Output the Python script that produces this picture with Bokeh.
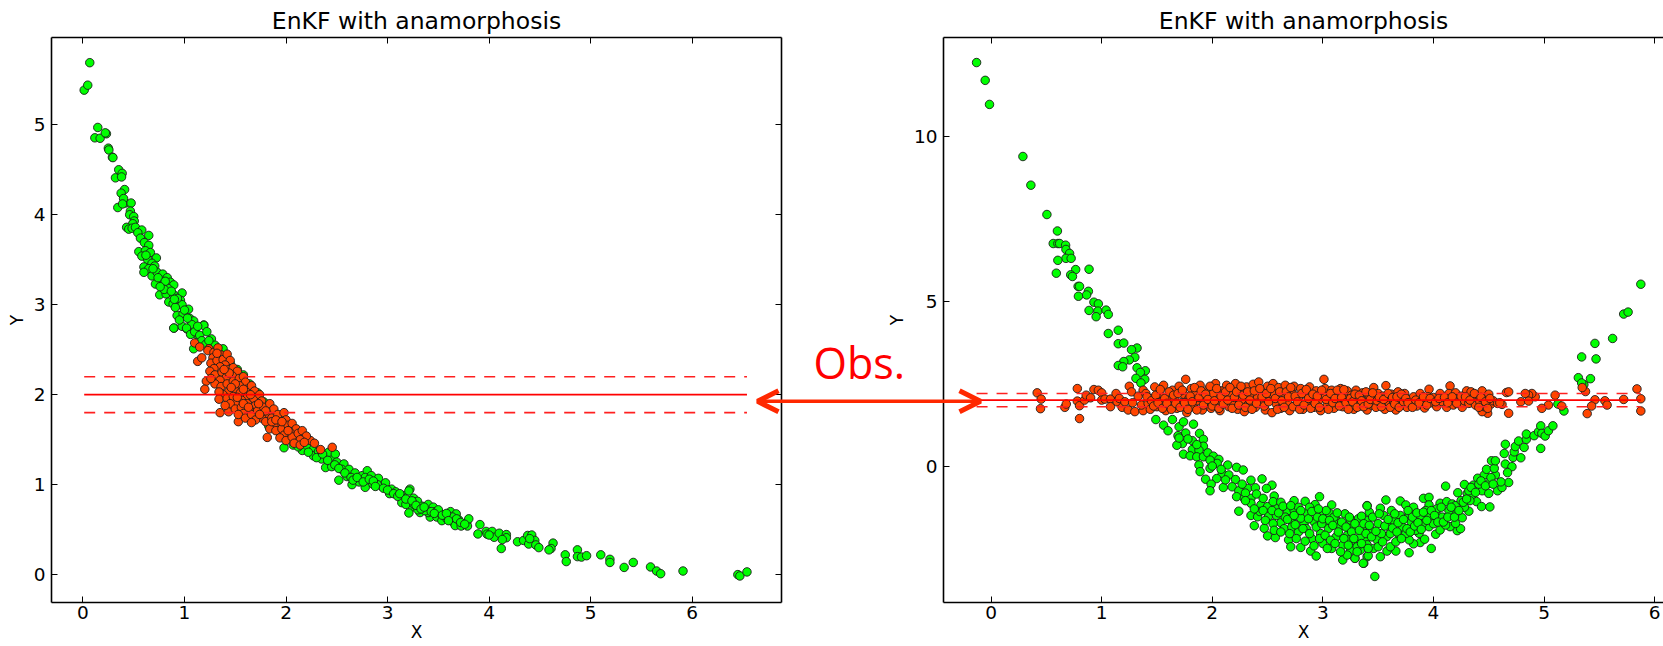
from bokeh.plotting import figure
from bokeh.layouts import row
from bokeh.models import LinearAxis, FixedTicker, Arrow, OpenHead, Label
from bokeh.embed import file_html
from bokeh.resources import INLINE

title_text = "EnKF with anamorphosis"
x_label = "X"
y_label = "Y"
note_text = "Obs."
obs_value = 2.0
obs_low = 1.8
obs_high = 2.2
left_xticks = [0, 1, 2, 3, 4, 5, 6]
left_yticks = [0, 1, 2, 3, 4, 5]
right_xticks = [0, 1, 2, 3, 4, 5, 6]
right_yticks = [0, 5, 10]

left_green = [(.012,5.385),(.047,5.44),(.067,5.69),(.146,4.97),(.117,4.855),(.169,4.85),(.231,4.9),(.22,4.91),(.25,4.74),(.255,4.72),(.29,4.64),(.295,4.635),
(.32,4.41),(.352,4.5),(.386,4.46),(.38,4.42),(.41,4.28),(.376,4.24),(.343,4.08),(.418,4.13),(.4,4.18),(.39,4.12),(.474,4.13),(.467,4.04),(.46,4.0),(.5,3.98),(.505,3.93),(.49,3.9),
(.43,3.86),(.451,3.84),(.484,3.85),(.517,3.86),(.579,3.83),(.648,3.77),(.54,3.8),(.566,3.74),(.605,3.69),(.648,3.66),(.55,3.59),(.615,3.6),(.664,3.58),(.58,3.54),(.723,3.52),(.638,3.5),(.68,3.46),(.707,3.43),(.6,3.42),(.648,3.4),(.6,3.36),(.68,3.32),(.73,3.36),(.786,3.34),(.83,3.3),(.756,3.27),(.861,3.25),(.894,3.22),(.714,3.23),(.779,3.21),(.838,3.18),(.976,3.13),(.756,3.11),(.819,3.12),(.894,3.11),(.845,3.03),(.888,3.01),(.96,3.05),(.976,3.0),(1.04,2.95),(.927,2.88),(.986,2.9),(1.05,2.85),(1.09,2.82),(1.19,2.775),(.897,2.74),(.976,2.76),(1.025,2.73),(1.107,2.73),(.74,3.3),(.81,3.26),(.8,3.17),(.87,3.15),(.93,3.07),(.91,2.97),(1.0,2.94),(.95,2.83),(1.07,2.78),
(.894,2.74),(1.02,2.74),(1.19,2.77),(1.12,2.67),(1.06,2.67),(1.1,2.7),(1.15,2.66),(1.22,2.7),(1.265,2.62),(1.09,2.51),(1.38,2.51),(1.17,2.6),(1.21,2.56),(1.3,2.55),(1.35,2.45),(1.41,2.42),(1.45,2.35),(1.52,2.28),(1.58,2.22),(1.64,2.12),(1.72,2.02),(1.78,1.92),(1.86,1.84),(1.92,1.76),(1.98,1.68),
(1.83,1.65),(1.98,1.41),(2.07,1.44),(2.0,1.55),(2.1,1.5),(2.16,1.38),(2.27,1.41),(2.27,1.32),(2.2,1.44),(2.35,1.285),(2.32,1.37),(2.39,1.19),(2.45,1.285),(2.42,1.36),(2.485,1.34),(2.5,1.25),(2.57,1.23),(2.55,1.17),(2.45,1.2),(2.52,1.05),(2.6,1.09),(2.62,1.17),(2.65,1.0),(2.68,1.13),(2.75,1.1),(2.72,1.03),(2.8,1.155),(2.78,1.08),(2.85,1.01),(2.84,1.1),(2.91,1.07),(2.78,.97),(2.945,.98),(2.9,1.0),(2.98,1.02),(3.04,.95),(3.02,.9),(3.08,.92),(3.22,.95),(3.15,.88),
(3.21,.93),(3.125,.88),(3.14,.8),(3.22,.82),(3.256,.85),(3.295,.815),(3.24,.75),(3.34,.76),(3.4,.78),(3.32,.69),(3.42,.64),(3.45,.75),(3.485,.64),(3.525,.675),(3.535,.6),(3.585,.62),(3.62,.7),(3.676,.675),(3.65,.58),(3.666,.545),(3.7,.61),(3.725,.54),(3.78,.58),(3.787,.54),(3.8,.62),(3.4,.69),(3.21,.685),(3.3,.72),(3.37,.71),(3.47,.7),(3.5,.72),(3.56,.66),(3.6,.63),(3.64,.64),(3.18,.78),(3.26,.78),
(3.91,.556),(3.89,.452),(3.97,.48),(3.98,.45),(4.03,.48),(4.05,.415),(4.0,.44),(4.1,.46),(4.17,.445),(4.17,.41),(4.13,.39),(4.12,.29),(4.28,.365),(4.34,.38),(4.38,.435),(4.42,.44),(4.45,.38),(4.39,.34),(4.46,.33),(4.49,.30),(4.4,.4),(4.63,.35),(4.61,.29),(4.59,.275),(4.75,.22),(4.76,.145),(4.87,.275),(4.87,.2),(4.91,.195),(4.96,.21),(5.10,.22),(5.19,.17),(5.19,.135),(5.33,.08),(5.42,.135),(5.59,.085),(5.65,.04),(5.69,.01),(5.91,.04),(6.45,0),(6.47,-.015),(6.54,.03),
(.62,3.55),(.69,3.4),(.76,3.2),(.9,3.06),(1.03,2.85),(1.13,2.76),(1.24,2.6),(2.12,1.42),(2.22,1.36),(2.3,1.3),(2.36,1.34),(2.41,1.27),(2.48,1.22),(2.52,1.18),(2.58,1.13),(2.64,1.08),(2.66,1.05),(2.7,1.08),(2.76,1.03),(2.82,1.06),(2.86,1.04),(2.88,.98),(2.96,.96),(3.0,.94),(3.06,.9),(3.1,.87),(3.12,.9),(3.18,.84),(3.24,.82),(3.28,.77),(3.33,.73),(3.36,.75),(3.43,.7),(3.46,.68),(3.54,.66),(3.58,.68),(3.6,.6),(3.68,.62),(3.72,.58),(3.76,.56)]

left_red = [(1.10,2.575),(1.15,2.53),(1.24,2.51),(1.13,2.37),(1.17,2.41),(1.215,2.15),(1.2,2.06),(1.35,1.80),(1.435,1.81),(1.53,1.70),(1.815,1.525),(2.34,1.39),(2.455,1.415),(2.24,1.49),
(1.23,2.49),(1.29,2.47),(1.33,2.52),(1.36,2.44),(1.28,2.41),(1.26,2.35),(1.32,2.38),(1.38,2.39),(1.42,2.45),(1.45,2.38),(1.4,2.33),(1.35,2.31),(1.29,2.29),(1.25,2.26),(1.3,2.22),(1.37,2.25),(1.44,2.28),(1.48,2.3),(1.52,2.26),(1.47,2.21),(1.41,2.19),(1.35,2.16),(1.3,2.12),(1.26,2.18),(1.36,2.09),(1.42,2.12),(1.48,2.15),(1.54,2.18),(1.58,2.2),(1.6,2.14),(1.54,2.1),(1.49,2.06),(1.43,2.03),(1.38,2.0),(1.34,2.03),(1.34,1.95),(1.42,1.96),(1.48,1.98),(1.55,2.02),(1.61,2.06),(1.66,2.1),(1.69,2.04),(1.62,1.98),(1.56,1.94),(1.5,1.9),(1.45,1.9),(1.4,1.88),(1.5,1.84),(1.56,1.86),(1.62,1.9),(1.68,1.96),(1.74,2.0),(1.76,1.93),(1.7,1.88),(1.64,1.83),(1.58,1.79),(1.53,1.78),(1.6,1.74),(1.66,1.78),(1.72,1.82),(1.78,1.86),(1.84,1.9),(1.88,1.84),(1.82,1.78),(1.76,1.74),(1.7,1.72),(1.66,1.69),(1.8,1.7),(1.86,1.74),(1.92,1.78),(1.98,1.8),(2.0,1.72),(1.94,1.68),(1.88,1.66),(1.84,1.62),(1.9,1.6),(1.96,1.62),(2.02,1.66),(2.06,1.68),(2.1,1.62),(2.04,1.58),(1.98,1.55),(1.94,1.52),(2.0,1.49),(2.06,1.53),(2.12,1.57),(2.16,1.6),(2.2,1.54),(2.14,1.5),(2.08,1.46),(2.14,1.44),(2.18,1.47),(2.28,1.46),(1.44,2.24),(1.5,2.12),(1.58,2.06),(1.65,2.0),(1.73,1.9),(1.8,1.82),(1.86,1.7),(1.32,2.46),(1.39,2.28),(1.46,2.08),(1.52,1.97),(1.58,1.9),(1.63,1.86),(1.74,1.78),(1.9,1.72),(1.96,1.7),(2.02,1.6)]

right_green = [(-.131,12.24),(-.053,11.7),(-.014,10.97),(.288,9.39),(.36,8.52),(.505,7.63),(.60,7.13),(.562,6.75),(.604,6.75),(.62,6.75),(.674,6.7),(.677,6.57),(.71,6.45),(.677,6.3),(.724,6.3),(.604,6.24),(.765,5.96),(.886,5.97),(.59,5.85),(.72,5.8),(.736,5.75),(.787,5.45),(.8,5.45),(.88,5.3),(.864,5.19),(.79,5.15),(.93,4.97),(.97,4.92),(.966,4.7),(.886,4.72),(.95,4.53),(1.04,4.73),(1.06,4.6),(1.15,4.12),(1.06,4.02),(1.15,3.71),(1.2,3.73),(1.32,3.58),(1.27,3.53),(1.30,3.3),(1.25,3.22),(1.2,3.17),(1.15,3.05),(1.19,3.01),(1.32,2.98),(1.395,2.89),(1.35,2.84),(1.31,2.66),(1.39,2.63),(1.355,2.52),
(1.49,1.41),(1.56,1.24),(1.60,1.07),(1.64,1.41),(1.70,1.19),(1.74,1.34),(1.83,1.27),(1.885,.99),(1.76,1.0),(1.69,.92),(1.82,.77),(1.92,.81),(1.73,.68),(1.68,.63),(1.92,.60),(1.82,.5),(1.88,.48),(1.74,.36),(1.80,.31),(1.86,.28),(1.92,.28),(1.96,.40),(2.01,.30),(2.06,.20),(1.88,.03),(2.045,.08),(2.14,.03),(2.22,-.04),(2.28,-.12),(1.89,-.17),(1.98,-.07),(2.09,-.22),(2.15,-.27),(1.94,-.40),(2.04,-.38),(2.21,-.41),(2.35,-.43),(2.45,-.39),(1.99,-.55),(2.10,-.65),(2.54,-.58),(2.49,-.68),(1.98,-.75),(2.18,-.63),(2.24,-.75),(2.32,-.68),(2.39,-.66),(2.22,-.93),(2.29,-.98),(2.35,-.98),(2.56,-.91),(2.97,-.93),(2.74,-1.05),(2.84,-1.07),(2.93,-1.17),(3.08,-1.18),(3.4,-1.2),(2.24,-1.37),(2.35,-1.13),(2.44,-1.18),(2.5,-1.23),(2.59,-1.28),(2.68,-1.36),(2.74,-1.34),(2.86,-1.44),(2.99,-1.46),(3.06,-1.44),(2.35,-1.5),(2.41,-1.54),(2.51,-1.52),(2.62,-1.72),(2.72,-1.64),(2.83,-1.74),(2.92,-1.69),(3.02,-1.72),(3.13,-1.66),(3.25,-1.62),(3.35,-1.54),
(2.38,-1.81),(2.47,-1.89),(2.5,-2.12),(2.57,-2.17),(2.69,-2.24),(2.71,-2.45),(2.8,-2.47),(2.89,-2.58),(2.94,-2.73),(3.18,-2.85),(3.29,-2.8),(3.37,-2.95),(3.4,-2.75),
(1.7,.85),(1.78,.82),(1.86,.65),(1.98,.18),(2.0,.0),(2.08,-.1),(2.12,-.42),(2.27,-.55),(2.3,-.82),(2.4,-.85),(2.46,-.98),(2.43,-1.38),(2.55,-1.08),(2.62,-1.1),(2.58,-1.5),(2.66,-1.55),(2.65,-1.9),(2.72,-1.85),(2.78,-1.25),(2.8,-1.58),(2.78,-2.0),(2.85,-1.9),(2.88,-1.25),(2.9,-2.2),(2.95,-1.55),(2.98,-2.05),(3.0,-2.35),(3.03,-1.35),(3.05,-1.9),(3.08,-2.5),(3.1,-1.55),(3.12,-2.15),(3.15,-1.85),(3.18,-2.4),(3.2,-1.45),(3.22,-2.1),(3.25,-2.55),(3.27,-1.85),(3.3,-2.3),(3.32,-1.6),(3.34,-2.55),(3.36,-1.95),(3.38,-2.25),(3.4,-1.65),
(3.47,-3.35),(3.365,-2.95),(3.29,-2.8),(3.52,-2.75),(3.41,-2.72),(3.22,-2.7),(3.66,-2.58),(3.78,-2.63),(3.98,-2.5),(3.58,-2.58),(3.61,-2.45),(3.88,-2.32),(3.82,-2.36),(3.92,-2.22),(4.02,-2.07),(4.06,-1.94),(4.215,-1.96),(4.245,-1.9),(4.15,-1.84),(4.2,-1.74),(4.11,-1.79),(4.26,-1.57),(4.32,-1.37),(4.18,-1.41),(4.05,-1.54),(3.96,-1.84),(3.87,-2.04),(3.78,-2.24),(3.69,-2.09),(3.58,-2.14),(3.49,-2.24),(3.4,-2.39),(3.31,-2.45),(3.235,-2.24),(3.34,-2.14),(3.43,-1.94),(3.25,-1.64),(3.35,-1.52),(3.42,-1.4),(3.4,-1.21),(3.52,-1.28),(3.57,-1.03),(3.70,-1.06),(3.75,-1.18),(3.91,-.98),(3.96,-.95),(4.11,-.61),(3.96,-1.18),(4.06,-1.13),(4.12,-1.08),(4.17,-1.15),(4.22,-.81),(4.28,-.56),(4.36,-.58),(4.305,-.83),(4.35,-.88),(4.39,-1.08),(4.435,-1.23),(4.51,-1.24),
(3.46,-2.5),(3.5,-1.75),(3.53,-2.05),(3.55,-1.5),(3.6,-1.85),(3.62,-1.35),(3.64,-1.65),(3.66,-2.3),(3.7,-1.5),(3.72,-1.85),(3.75,-2.05),(3.78,-1.45),(3.8,-1.7),(3.82,-1.25),(3.84,-1.95),(3.88,-1.55),(3.9,-1.75),(3.93,-1.35),(3.96,-1.55),(4.0,-1.75),(4.03,-1.3),(4.08,-1.55),(4.14,-1.35),(4.2,-1.2),(4.25,-1.05),(4.28,-1.25),(4.33,-1.05),
(4.4,-.37),(4.46,-.27),(4.50,-.53),(4.44,-.75),(4.5,-.83),(4.58,-.75),(4.62,-.65),(4.68,-.5),(4.61,-.48),(4.56,-.27),(4.48,-.1),(4.55,-.07),(4.525,.16),(4.56,.16),(4.65,.06),(4.71,-.02),(4.67,-.2),(4.64,.38),(4.65,.66),(4.72,.26),(4.79,.25),(4.73,.43),(4.74,.59),(4.77,.76),(4.82,.565),(4.84,.81),(4.84,.97),(4.91,.92),(4.97,.535),(4.95,1.04),(4.97,1.22),(4.98,.99),(5.01,.91),(5.04,1.07),(5.08,1.22),
(5.125,1.88),(5.18,1.67),(5.31,2.68),(5.34,3.31),(5.46,3.72),(5.47,3.25),(5.42,2.65),(5.36,2.47),(5.34,2.52),(5.62,3.87),(5.72,4.61),(5.76,4.67),(5.875,5.515),
(2.3,-1.05),(2.38,-1.3),(2.46,-1.35),(2.48,-1.65),(2.54,-1.35),(2.55,-1.75),(2.56,-1.95),(2.6,-1.42),(2.62,-2.0),(2.64,-1.22),(2.68,-1.62),(2.7,-2.05),(2.71,-1.2),(2.74,-1.5),(2.75,-1.78),(2.76,-2.2),(2.8,-1.35),(2.82,-1.9),(2.84,-2.28),(2.87,-1.6),(2.88,-2.05),(2.9,-1.38),(2.92,-2.42),(2.94,-1.85),(2.96,-1.3),(2.97,-2.2),(2.99,-1.75),(3.0,-1.6),(3.02,-2.1),(3.04,-2.5),(3.06,-1.65),(3.07,-2.25),(3.09,-1.8),(3.11,-2.35),(3.13,-1.42),(3.14,-2.0),(3.16,-2.6),(3.17,-1.7),(3.19,-2.2),(3.21,-1.85),(3.23,-2.4),(3.24,-1.55),(3.26,-2.0),(3.28,-2.2),(3.29,-1.75),(3.31,-2.6),(3.33,-1.95),(3.35,-2.35),(3.37,-1.75),(3.39,-2.05),(3.41,-2.5),(3.42,-1.8),(3.44,-2.15),(3.45,-1.55),(3.48,-1.98),(3.5,-2.45),(3.51,-1.45),(3.54,-2.3),(3.56,-1.82),(3.59,-1.62),(3.61,-2.05),(3.63,-1.88),(3.65,-1.45),(3.67,-2.0),(3.68,-1.72),(3.71,-2.2),(3.73,-1.62),(3.76,-1.9),(3.77,-1.35),(3.79,-2.0),(3.81,-1.55),(3.83,-1.82),(3.85,-1.42),(3.86,-1.72),(3.89,-1.92),(3.91,-1.4),(3.94,-1.65),(3.98,-1.35),(4.01,-1.5),(4.04,-1.7),(4.07,-1.25),(4.09,-1.7),(4.13,-1.55),(4.16,-1.25),(4.19,-1.55),(4.23,-1.35),(4.27,-1.1),(4.3,-1.0),(4.32,-.75),(4.34,-.65),(4.38,-.8),(4.41,-.55),(4.43,-.45),(4.47,-.6),(4.52,-.35),(4.54,-.55)]

right_red = [(.417,2.22),(.453,2.03),(.447,1.74),(.667,1.78),(.68,1.88),(.78,2.35),(.78,1.97),(.8,1.83),(.8,1.44),(.845,2.0),(.86,2.15),(.9,2.07),(.93,2.32),(.97,2.3),(1.0,2.22),(1.0,2.0),(1.03,2.03),(1.08,2.03),(1.08,1.8),(1.13,2.2),(1.14,1.95),(1.185,1.78),(1.24,1.7),(1.25,2.42),(1.3,1.65),(1.27,2.25),(1.375,1.68),(1.375,2.3),(1.16,2.05),(1.21,1.95),(1.28,1.92),(1.33,2.12),(1.36,1.85),
(1.4,2.2),(1.42,1.9),(1.44,1.72),(1.46,2.05),(1.48,2.4),(1.5,1.8),(1.52,2.2),(1.54,1.95),(1.56,2.45),(1.58,1.68),(1.6,2.12),(1.62,1.85),(1.64,2.3),(1.66,2.0),(1.68,1.75),(1.7,2.42),(1.72,1.92),(1.74,2.18),(1.76,2.63),(1.77,1.62),(1.79,2.05),(1.81,2.35),(1.83,1.8),(1.85,2.22),(1.87,1.98),(1.89,2.45),(1.91,1.7),(1.93,2.1),(1.95,1.88),(1.97,2.35),(1.99,1.75),(2.01,2.2),(2.03,2.5),(2.05,1.95),(2.07,1.68),(2.09,2.28),(2.11,2.05),(2.13,2.45),(2.15,1.8),(2.17,2.15),(2.19,1.92),(2.21,2.5),(2.23,1.72),(2.25,2.3),(2.27,2.02),(2.29,1.65),(2.31,2.4),(2.33,1.88),(2.35,2.18),(2.37,2.48),(2.39,1.78),(2.42,2.55),(2.41,2.08),(2.44,1.95),(2.46,2.28),(2.48,1.7),(2.5,2.42),(2.52,2.05),(2.55,2.5),(2.54,1.62),(2.56,2.2),(2.58,1.88),(2.6,2.38),(2.62,1.75),(2.64,2.12),(2.66,2.45),(2.68,1.95),(2.7,1.68),(2.72,2.25),(2.74,2.42),(2.76,1.85),(2.78,2.08),(2.8,2.35),(2.82,1.72),(2.84,2.18),(2.86,1.92),(2.88,2.4),(2.9,2.02),(2.92,1.78),(2.94,2.28),(2.96,1.98),(2.98,1.68),(3.01,2.63),(3.0,2.15),(3.02,2.35),(3.04,1.85),(3.06,2.08),(3.08,2.3),(3.1,1.75),(3.12,2.2),(3.14,1.95),(3.16,2.35),(3.18,1.8),(3.2,2.1),(3.22,2.28),(3.24,1.88),(3.26,2.15),(3.28,1.72),(3.3,2.3),(3.32,2.02),(3.34,1.82),(3.36,2.22),(3.38,1.95),(3.4,1.7),(3.42,2.1),
(3.46,2.38),(3.57,2.44),(3.96,2.33),(4.15,2.43),(5.84,2.34),(5.875,2.04),(5.875,1.67),(5.72,2.02),(5.55,1.98),(5.57,1.85),(5.46,2.01),(5.43,1.82),(5.39,1.59),(5.375,2.26),(5.345,2.38),(5.16,1.82),(5.10,2.15),(5.04,1.85),(4.98,1.75),(4.92,2.1),(4.89,2.2),(4.86,2.15),(4.83,2.2),(4.79,1.95),(4.86,1.97),(4.68,1.6),(4.66,2.23),(4.68,2.25),(4.62,1.87),(4.49,1.6),(4.44,1.65),
(3.44,1.85),(3.46,2.05),(3.48,1.78),(3.5,2.2),(3.52,1.92),(3.54,2.12),(3.56,1.72),(3.58,2.02),(3.6,1.85),(3.62,2.18),(3.64,1.95),(3.66,1.7),(3.68,2.25),(3.7,2.0),(3.72,1.85),(3.74,2.2),(3.76,1.78),(3.78,2.02),(3.8,1.9),(3.82,2.1),(3.85,1.82),(3.88,2.2),(3.9,1.98),(3.92,1.76),(3.95,2.1),(3.98,1.92),(4.0,2.08),(4.03,1.8),(4.06,2.2),(4.08,1.95),(4.12,1.78),(4.14,2.2),(4.16,2.0),(4.18,1.85),(4.2,2.22),(4.22,2.05),(4.26,1.78),(4.28,1.98),(4.3,2.28),(4.32,1.9),(4.34,2.25),(4.36,2.05),(4.38,1.85),(4.4,2.15),(4.42,1.95),(4.44,2.28),(4.46,1.8),(4.48,2.05),(4.5,2.18),(4.52,1.88),(4.54,1.98),(4.58,1.9),(4.6,1.92),
(1.41,2.1),(1.45,1.98),(1.47,1.82),(1.49,2.15),(1.51,1.92),(1.53,2.32),(1.55,1.75),(1.57,2.05),(1.59,1.9),(1.61,2.25),(1.63,1.72),(1.65,2.15),(1.67,1.9),(1.69,2.2),(1.71,1.78),(1.73,2.3),(1.75,1.92),(1.78,1.72),(1.8,2.12),(1.82,1.95),(1.84,2.38),(1.86,1.7),(1.88,2.08),(1.9,2.28),(1.92,1.85),(1.94,2.18),(1.96,2.02),(1.98,2.42),(2.0,1.82),(2.02,1.98),(2.04,2.35),(2.06,1.75),(2.08,2.12),(2.1,1.88),(2.12,2.25),(2.14,2.0),(2.16,2.38),(2.18,1.75),(2.2,2.08),(2.22,2.25),(2.24,1.85),(2.26,2.42),(2.28,2.15),(2.3,1.78),(2.32,2.25),(2.34,2.0),(2.36,1.72),(2.38,2.28),(2.4,1.9),(2.43,2.35),(2.45,2.1),(2.47,1.82),(2.49,2.2),(2.51,1.95),(2.53,2.35),(2.57,2.05),(2.59,1.72),(2.61,2.25),(2.63,1.98),(2.65,1.78),(2.67,2.25),(2.69,2.1),(2.71,2.38),(2.73,1.8),(2.75,2.12),(2.77,1.95),(2.79,1.72),(2.81,2.2),(2.83,1.85),(2.85,2.32),(2.87,2.05),(2.89,1.75),(2.91,2.18),(2.93,1.9),(2.95,2.12),(2.97,1.78),(2.99,2.3),(3.03,2.02),(3.05,1.72),(3.07,2.2),(3.09,1.92),(3.11,2.05),(3.13,2.3),(3.15,1.82),(3.17,2.08),(3.19,2.32),(3.21,1.92),(3.23,1.72),(3.25,2.05),(3.27,1.95),(3.29,2.18),(3.31,1.78),(3.33,2.15),(3.35,1.98),(3.37,1.8),(3.39,2.25),(3.41,1.88),(3.43,2.02),(3.45,2.22),(3.49,1.98),(3.51,2.08),(3.53,1.8),(3.55,2.02),(3.59,2.2),(3.61,1.78),(3.63,2.08),(3.65,1.88),(3.67,2.1),(3.69,1.78),(3.71,2.18),(3.73,1.95),(3.75,2.05),(3.77,1.92),(3.81,1.78),(3.84,2.0),(3.87,1.92),(3.91,2.1),(3.94,1.85),(3.97,2.05),(4.02,1.95),(4.05,2.05),(4.1,2.08),(4.13,1.92),(4.17,2.1),(4.21,1.9),(4.25,2.12),(4.29,2.1),(4.33,2.0),(4.37,2.2),(4.41,1.78),(4.43,2.08),(4.47,1.95),(4.49,1.75),(4.51,2.05)]

W, H = 1663, 646
Y_TOP, Y_BOTTOM = 37, 602

def blank(ticks):
    return {t: "" for t in ticks}

def build(xlim, ylim, xticks, yticks, frame_left, frame_right, with_right):
    p = figure(width=W, height=H, x_range=xlim, y_range=ylim, output_backend="svg", toolbar_location=None,
               min_border_left=frame_left, min_border_right=W - frame_right, min_border_top=Y_TOP, min_border_bottom=H - Y_BOTTOM,
               background_fill_alpha=0, border_fill_alpha=0, outline_line_color=None)
    p.grid.visible = False
    p.title.text = title_text
    p.title.align = "center"
    p.title.text_font = "DejaVu Sans"
    p.title.text_font_size = "23.5px"
    p.title.text_font_style = "normal"
    p.title.text_color = "#000000"
    p.title.standoff = 6
    for ax, ticks, lab, tick_gap, lab_gap in ((p.xaxis[0], xticks, x_label, 3, 0), (p.yaxis[0], yticks, y_label, 6, 4)):
        ax.ticker = FixedTicker(ticks=ticks)
        ax.axis_label = lab
        ax.axis_label_text_font = "DejaVu Sans"
        ax.axis_label_text_font_size = "17px"
        ax.axis_label_text_font_style = "normal"
        ax.axis_label_text_color = "#000000"
        ax.major_label_text_font = "DejaVu Sans"
        ax.major_label_text_font_size = "18.5px"
        ax.major_label_text_color = "#000000"
        ax.major_tick_in = 6
        ax.major_tick_out = 0
        ax.minor_tick_line_color = None
        ax.major_tick_line_color = "#000000"
        ax.axis_line_color = "#000000"
        ax.axis_line_width = 1.6
        ax.major_label_standoff = tick_gap
        ax.axis_label_standoff = lab_gap
    sides = [("above", xticks)] + ([("right", yticks)] if with_right else [])
    for loc, ticks in sides:
        a = LinearAxis(ticker=FixedTicker(ticks=ticks), major_label_overrides=blank(ticks), major_label_text_font_size="1px",
                       major_tick_in=6, major_tick_out=0, minor_tick_line_color=None, axis_line_color="#000000",
                       axis_line_width=1.6, major_label_standoff=0)
        p.add_layout(a, loc)
    return p

def draw(p, green, red):
    gx, gy = zip(*green)
    rx, ry = zip(*red)
    common = dict(size=8.5, line_color="#1c1c1c", line_width=0.9)
    p.scatter(gx, gy, fill_color="#00ff00", **common)
    p.scatter(rx, ry, fill_color="#ff4500", **common)
    lo, hi = min(gx + rx), max(gx + rx)
    p.line([lo, hi], [obs_value, obs_value], line_color="#ff0000", line_width=1.6)
    for v in (obs_low, obs_high):
        p.line([lo, hi], [v, v], line_color="#ff2020", line_width=1.6, line_dash="11 9")

right = build((-.43, 6.08), (-4.14, 13.0), right_xticks, right_yticks, 943, 1663, False)
draw(right, right_green, right_red)
left = build((-.31, 6.88), (-.31, 5.97), left_xticks, left_yticks, 51, 781, True)
draw(left, left_green, left_red)
left.margin = (0, 0, 0, -W)

# overlay whose frame covers the whole page, used only for the annotation across both panels
over = figure(width=W, height=H, x_range=(0, W), y_range=(H, 0), output_backend="svg", toolbar_location=None,
              x_axis_type=None, y_axis_type=None, min_border=0, background_fill_alpha=0, border_fill_alpha=0,
              outline_line_color=None, margin=(0, 0, 0, -W), title=None)
over.grid.visible = False
over.add_layout(Arrow(x_start=757, y_start=416, x_end=980, y_end=416, line_color="#ff2800", line_width=3.5,
                      start=OpenHead(size=21, line_color="#ff2800", line_width=5),
                      end=OpenHead(size=21, line_color="#ff2800", line_width=5)))
over.add_layout(Label(x=813, y=372, text=note_text, text_color="#ff0000", text_font="Open Sans", text_font_size="43px",
                      text_baseline="alphabetic"))

layout = row(right, left, over)
open("out.html", "w").write(file_html(layout, INLINE))
